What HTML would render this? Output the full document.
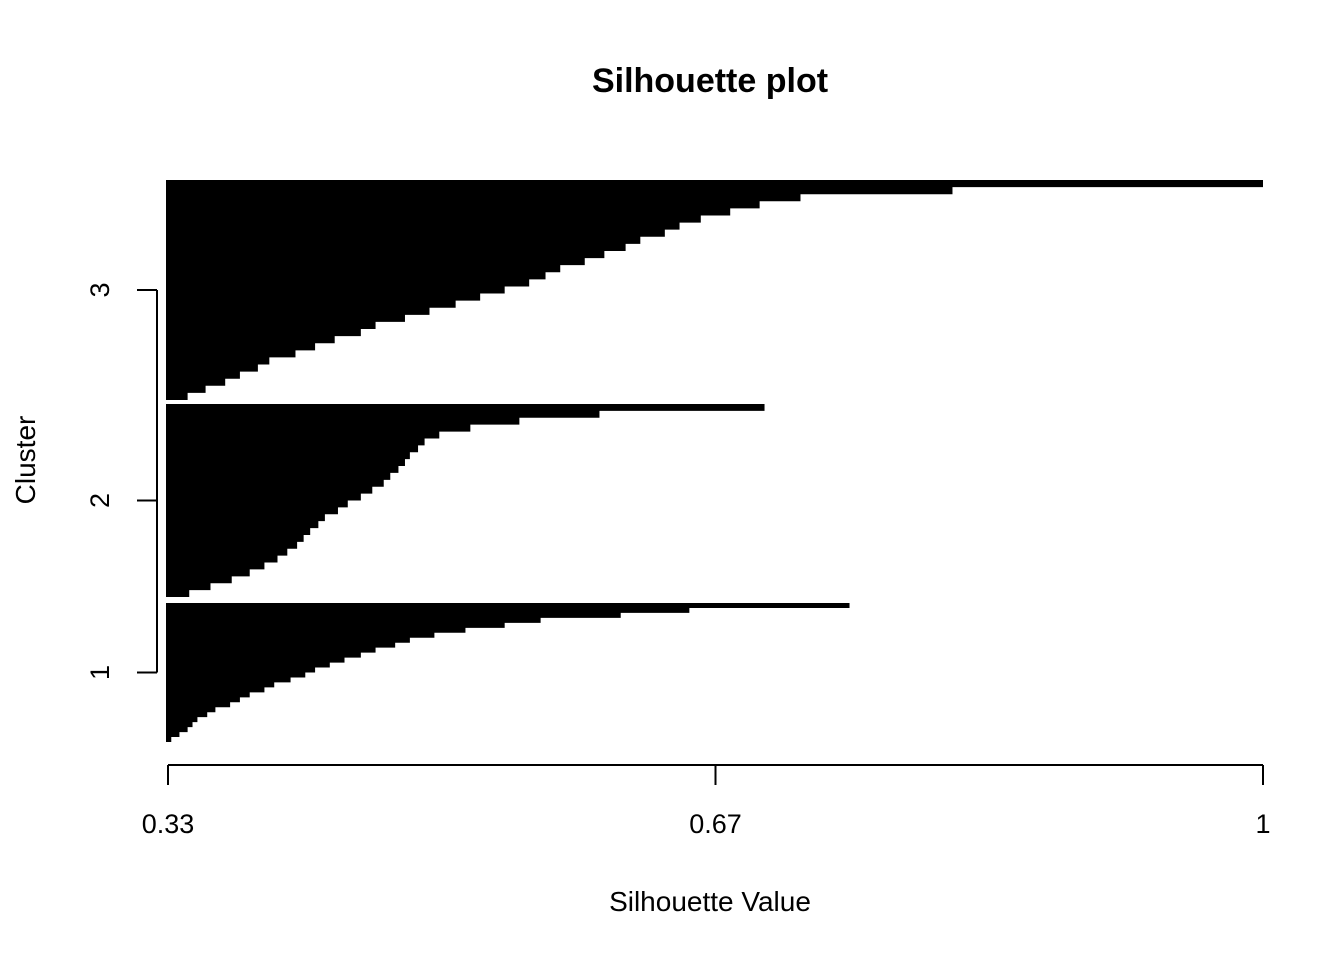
<!DOCTYPE html>
<html><head><meta charset="utf-8"><style>
html,body{margin:0;padding:0;background:#fff;}
svg text{font-family:"Liberation Sans",Arial,sans-serif;fill:#000;}
</style></head><body>
<svg id="chart" width="1344" height="960" viewBox="0 0 1344 960">
<text x="710" y="92" font-size="34" font-weight="bold" text-anchor="middle">Silhouette plot</text>
<text x="710" y="911" font-size="28" text-anchor="middle">Silhouette Value</text>
<text transform="translate(35,460) rotate(-90)" font-size="28" text-anchor="middle">Cluster</text>
<g id="bars"></g>
<g id="xaxis"></g>
<g id="yaxis"></g>
</svg>
<script>
const clusters = ["1","2","3"];
const cluster1 = [0.747,0.649,0.607,0.558,0.536,0.512,0.493,0.478,0.469,0.457,0.448,0.438,0.429,0.420,0.414,0.405,0.395,0.389,0.380,0.374,0.368,0.359,0.354,0.348,0.345,0.342,0.337,0.332];
const cluster2 = [0.695,0.594,0.545,0.515,0.496,0.487,0.483,0.478,0.475,0.471,0.466,0.462,0.455,0.448,0.440,0.434,0.426,0.422,0.417,0.413,0.409,0.403,0.397,0.389,0.380,0.369,0.356,0.343];
const cluster3 = [1.0,0.81,0.717,0.692,0.674,0.656,0.643,0.634,0.619,0.610,0.597,0.585,0.570,0.561,0.551,0.536,0.521,0.506,0.490,0.475,0.457,0.448,0.432,0.420,0.408,0.392,0.385,0.374,0.365,0.353,0.342];
const xTickValues = [0.33,0.665,1];
const xTickLabels = ["0.33","0.67","1"];

const NS="http://www.w3.org/2000/svg";
const xMin=0.33,xMax=1,px0=168,px1=1263;
function xs(v){return px0+(v-xMin)/(xMax-xMin)*(px1-px0);}
// layout: pixel extents of each cluster group [top,bottom]
const groupExtents=[[603,742],[404,597],[180,400]];
const all=[cluster1,cluster2,cluster3];
const barsG=document.getElementById('bars');
const centers=[];
all.forEach((vals,ci)=>{
  const top=groupExtents[ci][0], bottom=groupExtents[ci][1];
  const unit=(bottom-top)/vals.length;
  centers.push((top+bottom)/2);
  let d=`M${px0-2},${top}`;
  vals.forEach((v,i)=>{
    const y0=top+i*unit,y1=top+(i+1)*unit;
    d+=` L${xs(v)},${y0} L${xs(v)},${y1}`;
  });
  d+=` L${px0-2},${bottom} Z`;
  const p=document.createElementNS(NS,'path');
  p.setAttribute('d',d);p.setAttribute('fill','#000');
  
  
  barsG.appendChild(p);
});
const xa=document.getElementById('xaxis');
function line(g,x1,y1,x2,y2,name){const l=document.createElementNS(NS,'line');l.setAttribute('x1',x1);l.setAttribute('y1',y1);l.setAttribute('x2',x2);l.setAttribute('y2',y2);l.setAttribute('stroke','#000');l.setAttribute('stroke-width','2');


g.appendChild(l);}
line(xa,xs(xTickValues[0]),765,xs(xTickValues[xTickValues.length-1]),765,'x-axis-line');
xTickValues.forEach((v,i)=>{
  line(xa,xs(v),765,xs(v),785,'x-tick');
  const t=document.createElementNS(NS,'text');t.setAttribute('x',xs(v));t.setAttribute('y',833);t.setAttribute('font-size','27');t.setAttribute('text-anchor','middle');t.textContent=xTickLabels[i];
  
  
  xa.appendChild(t);
});
const ya=document.getElementById('yaxis');
line(ya,157,centers[0],157,centers[centers.length-1],'y-axis-line');
centers.forEach((c,i)=>{
  line(ya,157,c,137,c,'y-tick');
  const t=document.createElementNS(NS,'text');t.setAttribute('transform',`translate(109,${c}) rotate(-90)`);t.setAttribute('font-size','27');t.setAttribute('text-anchor','middle');t.textContent=clusters[i];
  
  
  ya.appendChild(t);
});
</script>
</body></html>
